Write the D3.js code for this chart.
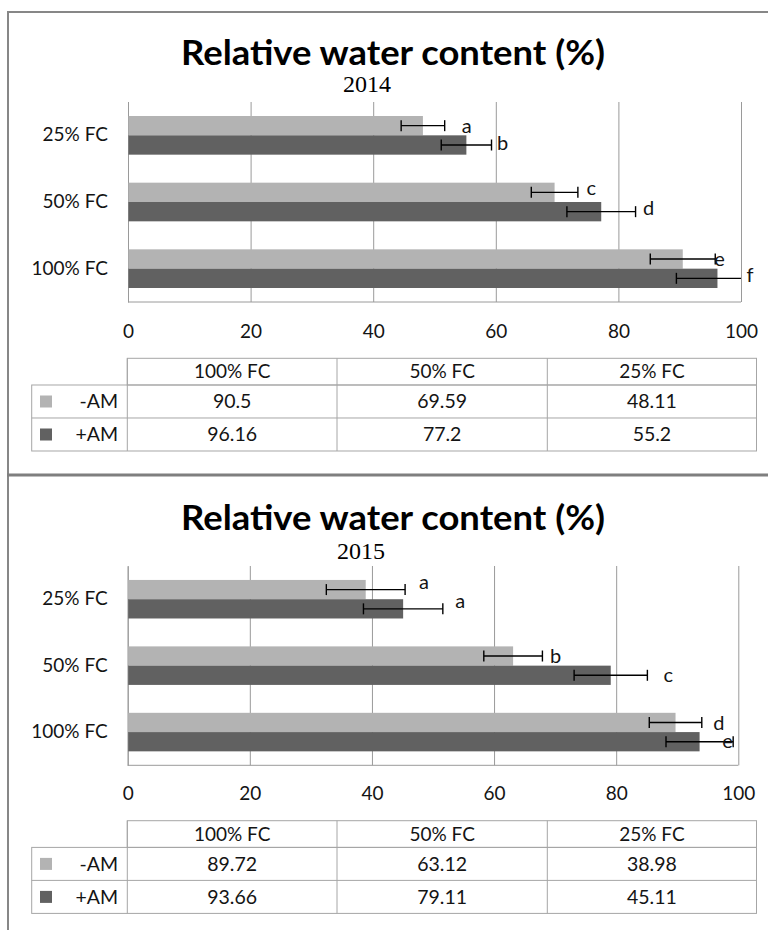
<!DOCTYPE html>
<html>
<head>
<meta charset="utf-8">
<script src="https://cdn.jsdelivr.net/npm/d3@7"></script>
<style>
  body { margin: 0; background: #fff; }
  svg text { font-family: Lato, "Open Sans", sans-serif; fill: #141414; }
</style>
</head>
<body>
<svg id="chart"></svg>
<script>
// categories as listed in the data table (Excel draws the first one at the bottom)
const categories = ["100% FC", "50% FC", "25% FC"];
const seriesNames = ["-AM", "+AM"];
const xTicks = [0, 20, 40, 60, 80, 100];

// 2014
const minusAM2014 = [90.5, 69.59, 48.11];
const plusAM2014 = [96.16, 77.2, 55.2];
const minusErr2014 = [5.3, 3.8, 3.55];
const plusErr2014 = [6.7, 5.6, 4.1];
const minusLetters2014 = ["e", "c", "a"];
const plusLetters2014 = ["f", "d", "b"];

// 2015
const minusAM2015 = [89.72, 63.12, 38.98];
const plusAM2015 = [93.66, 79.11, 45.11];
const minusErr2015 = [4.3, 4.8, 6.45];
const plusErr2015 = [5.5, 6.0, 6.5];
const minusLetters2015 = ["d", "b", "a"];
const plusLetters2015 = ["e", "c", "a"];

const W = 768, H = 930;
const colors = { "-AM": "#b3b3b3", "+AM": "#616161" };
const gridColor = "#9a9a9a";

const svg = d3.select("#chart").attr("width", W).attr("height", H);

// letter label nudges in px [dx, dy] per category (hand placed in the original)
const nudge2014 = {
  "-AM": [[-1, 6.5], [8.5, 2.5], [17, 7]],
  "+AM": [[5.5, 3.5], [7.5, 3], [5.5, 4.5]]
};
const nudge2015 = {
  "-AM": [[11.5, 7.5], [7.5, 6.5], [14, -1]],
  "+AM": [[-11, 6.5], [16, 6.5], [12.5, -0.5]]
};

function drawPanel(cfg, minus, plus, minusErr, plusErr, minusLet, plusLet, nudge) {
  const g = svg.append("g");

  const rows = categories.map((c, i) => ({
    cat: c,
    vals: [
      { s: "-AM", v: minus[i], e: minusErr[i], l: minusLet[i], n: nudge["-AM"][i] },
      { s: "+AM", v: plus[i], e: plusErr[i], l: plusLet[i], n: nudge["+AM"][i] }
    ]
  }));

  const x = d3.scaleLinear().domain([0, 100]).range([cfg.x0, cfg.x1]);
  const y = d3.scaleBand()
    .domain(categories.slice().reverse())
    .range([cfg.y0, cfg.y1])
    .paddingInner(0.42)
    .paddingOuter(0.21);
  const sub = d3.scaleBand().domain(seriesNames).range([0, y.bandwidth()]);

  // title + year
  g.append("text")
    .attr("x", 181).attr("y", cfg.titleY)
    .attr("textLength", 424).attr("lengthAdjust", "spacingAndGlyphs")
    .style("font-size", "35px").style("font-weight", "bold").style("fill", "#000")
    .text("Relative water content (%)");
  g.append("text")
    .attr("x", cfg.subX).attr("y", cfg.subY)
    .attr("text-anchor", "middle")
    .style("font-family", "'Liberation Serif', 'Times New Roman', serif")
    .style("font-size", "24px").style("fill", "#000")
    .text(cfg.year);

  // vertical gridlines + tick labels
  const xAxis = g.append("g")
    .attr("transform", `translate(0, ${cfg.y1})`)
    .call(d3.axisBottom(x).tickValues(xTicks).tickSize(-(cfg.y1 - cfg.y0)).tickPadding(cfg.tickPad));
  xAxis.select(".domain").remove();
  xAxis.selectAll("line").attr("stroke", gridColor);
  xAxis.selectAll("text").style("font-size", "19px").attr("fill", "#141414")
    .style("font-family", "Lato, sans-serif");

  // bottom axis line
  g.append("line")
    .attr("x1", x(0)).attr("x2", x(100))
    .attr("y1", cfg.y1).attr("y2", cfg.y1)
    .attr("stroke", gridColor);

  // category axis
  const yAxis = g.append("g")
    .attr("transform", `translate(${x(0)}, 0)`)
    .call(d3.axisLeft(y).tickSize(0).tickPadding(20));
  yAxis.select(".domain").attr("stroke", gridColor);
  yAxis.selectAll("text").style("font-size", "19px").attr("fill", "#141414")
    .style("font-family", "Lato, sans-serif");

  // bars
  const groups = g.selectAll(".cat")
    .data(rows)
    .enter()
    .append("g")
    .attr("class", "cat")
    .attr("transform", d => `translate(0, ${y(d.cat)})`);

  groups.selectAll("rect")
    .data(d => d.vals)
    .enter()
    .append("rect")
    .attr("x", x(0) + 0.5)
    .attr("y", d => sub(d.s))
    .attr("width", d => x(d.v) - x(0) - 0.5)
    .attr("height", sub.bandwidth())
    .attr("fill", d => colors[d.s]);

  // error bars (clipped at the plot edge like in Excel)
  const capH = 11;
  const eb = groups.selectAll(".err")
    .data(d => d.vals)
    .enter()
    .append("g")
    .attr("class", "err")
    .attr("transform", d => `translate(0, ${sub(d.s) + sub.bandwidth() / 2})`);

  eb.append("line")
    .attr("x1", d => x(d.v - d.e))
    .attr("x2", d => x(Math.min(d.v + d.e, 100)))
    .attr("stroke", "#000").attr("stroke-width", 1.4);
  eb.append("line")
    .attr("x1", d => x(d.v - d.e)).attr("x2", d => x(d.v - d.e))
    .attr("y1", -capH / 2).attr("y2", capH / 2)
    .attr("stroke", "#000").attr("stroke-width", 1.4);
  eb.filter(d => d.v + d.e <= 100)
    .append("line")
    .attr("x1", d => x(d.v + d.e)).attr("x2", d => x(d.v + d.e))
    .attr("y1", -capH / 2).attr("y2", capH / 2)
    .attr("stroke", "#000").attr("stroke-width", 1.4);

  // significance letters
  eb.append("text")
    .attr("x", d => x(Math.min(d.v + d.e, 100)) + d.n[0])
    .attr("y", d => d.n[1])
    .style("font-size", "20px")
    .text(d => d.l);

  // data table
  const cols = [31.7, 127.3, 337, 547.3, 756.5];
  const headH = 26.7, rowH = 33;
  const t = g.append("g").attr("transform", `translate(0, ${cfg.tableTop})`);
  const lineStyle = sel => sel.attr("stroke", "#a6a6a6").attr("stroke-width", 1).attr("fill", "none");

  // header row (no cell above the series names)
  t.append("rect").attr("x", cols[1]).attr("y", 0)
    .attr("width", cols[4] - cols[1]).attr("height", headH).call(lineStyle);
  t.append("rect").attr("x", cols[0]).attr("y", headH)
    .attr("width", cols[4] - cols[0]).attr("height", rowH * 2).call(lineStyle);
  t.append("line").attr("x1", cols[0]).attr("x2", cols[4])
    .attr("y1", headH + rowH).attr("y2", headH + rowH).call(lineStyle);
  [cols[1], cols[2], cols[3]].forEach(cx => {
    t.append("line").attr("x1", cx).attr("x2", cx)
      .attr("y1", 0).attr("y2", headH + rowH * 2).call(lineStyle);
  });

  categories.forEach((c, i) => {
    t.append("text")
      .attr("x", (cols[i + 1] + cols[i + 2]) / 2).attr("y", headH / 2)
      .attr("text-anchor", "middle").attr("dy", "0.35em")
      .style("font-size", "19px")
      .text(c);
  });

  const tableVals = [minus, plus];
  seriesNames.forEach((s, r) => {
    const cy = headH + rowH * r + rowH / 2;
    t.append("rect")
      .attr("x", 40).attr("y", cy - 6)
      .attr("width", 12).attr("height", 12)
      .attr("fill", colors[s]);
    t.append("text")
      .attr("x", 118).attr("y", cy)
      .attr("text-anchor", "end").attr("dy", "0.35em")
      .style("font-size", "19.5px")
      .text(s);
    tableVals[r].forEach((v, i) => {
      t.append("text")
        .attr("x", (cols[i + 1] + cols[i + 2]) / 2).attr("y", cy)
        .attr("text-anchor", "middle").attr("dy", "0.35em")
        .style("font-size", "19.5px")
        .text(v);
    });
  });
}

drawPanel(
  { year: "2014", titleY: 65, subX: 367, subY: 92, x0: 128, x1: 741, y0: 102, y1: 302, tickPad: 23, tableTop: 358.3 },
  minusAM2014, plusAM2014, minusErr2014, plusErr2014, minusLetters2014, plusLetters2014, nudge2014
);
drawPanel(
  { year: "2015", titleY: 530, subX: 361, subY: 559, x0: 127.7, x1: 738.3, y0: 566, y1: 765.3, tickPad: 21, tableTop: 820.7 },
  minusAM2015, plusAM2015, minusErr2015, plusErr2015, minusLetters2015, plusLetters2015, nudge2015
);

// chart frames
const frame = svg.append("g").attr("stroke", "#878787").attr("fill", "none");
frame.append("line").attr("x1", 8).attr("x2", 8).attr("y1", 11).attr("y2", H).attr("stroke-width", 2);
frame.append("line").attr("x1", 7).attr("x2", W).attr("y1", 12).attr("y2", 12).attr("stroke-width", 2);
frame.append("line").attr("x1", 7).attr("x2", W).attr("y1", 475).attr("y2", 475).attr("stroke-width", 3).attr("stroke", "#7f7f7f");
</script>
</body>
</html>
